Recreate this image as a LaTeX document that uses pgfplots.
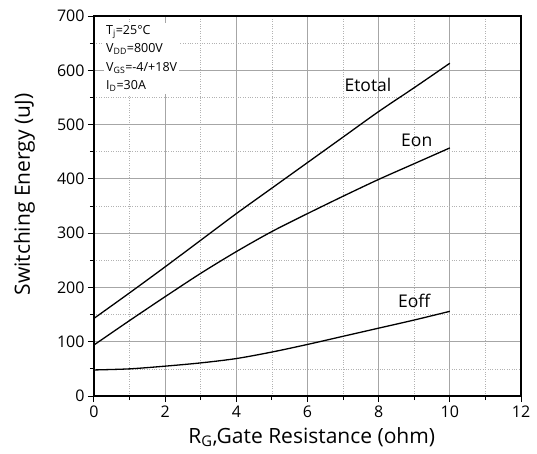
\documentclass[border=0pt]{standalone}
\usepackage{fontspec}
\setmainfont{Open Sans}
\usepackage{pgfplots}
\pgfplotsset{compat=1.18}
\begin{document}
\begin{tikzpicture}
\begin{axis}[name=ax, scale only axis, width=427pt, height=380pt,
  xmin=0,xmax=12,ymin=0,ymax=700,
  xtick={0,2,...,12}, ytick={0,100,...,700},
  minor x tick num=1, minor y tick num=1,
  grid=both,
  major grid style={black!35, line width=0.8pt},
  minor grid style={black!30, dotted, line width=0.6pt},
  tick pos=left, tick align=outside,
  major tick length=6pt, minor tick length=4pt,
  axis line style={line width=1.2pt},
  every tick/.style={black, line width=1pt},
  xticklabel style={font=\fontsize{16}{18}\selectfont},
  yticklabel style={font=\fontsize{16}{18}\selectfont},
  /pgf/number format/assume math mode=true,
  xlabel={R\textsubscript{G},Gate Resistance (ohm)},
  ylabel={Switching Energy (uJ)},
  xlabel style={font=\fontsize{21}{24}\selectfont, at={(axis description cs:0.51,-0.124)}, anchor=base},
  ylabel style={font=\fontsize{21}{24}\selectfont, at={(axis description cs:-0.163,0.53)}, anchor=center, rotate=0},
]
\addplot[black, line width=1.3pt, smooth] coordinates {
(0,143) (1,190) (2,238) (3,287) (4,336) (5,383) (6,430) (7,477) (8,524) (9,568) (10,613)};
\addplot[black, line width=1.3pt, smooth] coordinates {
(0,94) (1,139) (2,183) (3,226) (4,266) (5,303) (6,336) (7,368) (8,399) (9,428) (10,457)};
\addplot[black, line width=1.3pt, smooth] coordinates {
(0,48) (1,50) (2,55) (3,61) (4,69) (5,81) (6,95) (7,110) (8,125) (9,140) (10,156)};
\node[font=\fontsize{17.5}{20}\selectfont] at (axis cs:7.7,573) {Etotal};
\node[font=\fontsize{17.5}{20}\selectfont] at (axis cs:9.07,471) {Eon};
\node[font=\fontsize{17.5}{20}\selectfont] at (axis cs:9.0,175) {Eoff};
\node[anchor=north west, fill=white, align=left, inner xsep=2pt, inner ysep=2pt,
  font=\fontsize{12.5}{18.5}\selectfont]
  at ([xshift=10pt,yshift=-7pt]rel axis cs:0,1)
  {T\textsubscript{j}=25°C\\V\textsubscript{DD}=800V\\V\textsubscript{GS}=-4/+18V\\I\textsubscript{D}=30A};
\end{axis}
\pgfresetboundingbox
\path[use as bounding box] ([shift={(-94pt,-57pt)}]ax.south west) rectangle ([shift={(443pt,396pt)}]ax.south west);
\end{tikzpicture}
\end{document}
